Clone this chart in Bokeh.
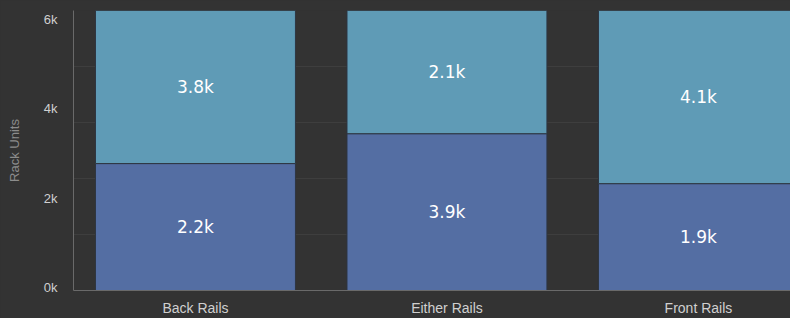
from bokeh.plotting import figure
from bokeh.models import ColumnDataSource, FixedTicker, Range1d, Grid, LinearAxis
from bokeh.core.properties import value
from bokeh.embed import file_html
from bokeh.resources import INLINE

# ---- data ----
categories = ["Back Rails", "Either Rails", "Front Rails"]
bottom_values = [2720, 3360, 2290]      # lower segment (rack units)
top_values = [3280, 2640, 3710]         # upper segment (rack units)
bottom_labels = ["2.2k", "3.9k", "1.9k"]
top_labels = ["3.8k", "2.1k", "4.1k"]
y_tick_values = [0, 2000, 4000, 6000]
y_tick_labels = ["0k", "2k", "4k", "6k"]
grid_values = [1200, 2400, 3600, 4800]

BG = "#333333"
BOTTOM_COLOR = "#546ea3"
TOP_COLOR = "#5f9bb6"

xs = list(range(len(categories)))
stack_top = [b + t for b, t in zip(bottom_values, top_values)]
src = ColumnDataSource(dict(
    x=xs,
    b0=[0] * len(xs),
    b1=bottom_values,
    t1=stack_top,
    bmid=[b / 2 for b in bottom_values],
    tmid=[b + t / 2 for b, t in zip(bottom_values, top_values)],
    blab=bottom_labels,
    tlab=top_labels,
))

p = figure(width=790, height=318, output_backend="svg", toolbar_location=None,
           x_range=Range1d(-0.485, 2.366), y_range=Range1d(0, 6000),
           y_axis_location=None,
           min_border_left=73, min_border_right=0, min_border_top=10, min_border_bottom=28)
p.background_fill_color = BG
p.border_fill_color = BG
p.outline_line_color = None

# grids: only a faint horizontal grid
for gr in list(p.xgrid) + list(p.ygrid):
    gr.visible = False
g = Grid(dimension=1, ticker=FixedTicker(ticks=grid_values), grid_line_color="#3e3e3e", grid_line_width=1)
p.add_layout(g)

p.vbar(x="x", bottom="b0", top="b1", width=0.795, source=src,
       fill_color=BOTTOM_COLOR, line_color="#2e3642", line_width=1)
p.vbar(x="x", bottom="b1", top="t1", width=0.795, source=src,
       fill_color=TOP_COLOR, line_color="#2e3642", line_width=1)

for col, lab in (("bmid", "blab"), ("tmid", "tlab")):
    p.text(x="x", y=col, text=lab, source=src, text_align="center", text_baseline="middle",
           text_color="white", text_font=value("DejaVu Sans"), text_font_size="17px",
           text_font_style="normal")

# y axis on its own (slightly inset) range, as the tick labels sit in the reference
p.extra_y_ranges = {"ylab": Range1d(-67, 6202)}
yax = LinearAxis(y_range_name="ylab", ticker=FixedTicker(ticks=y_tick_values),
                 major_label_overrides={v: l for v, l in zip(y_tick_values, y_tick_labels)})
p.add_layout(yax, "left")

p.xaxis.ticker = FixedTicker(ticks=xs)
p.xaxis.major_label_overrides = {i: c for i, c in zip(xs, categories)}
for ax, size in ((p.xaxis[0], "14px"), (yax, "13px")):
    ax.axis_line_color = "#6a6a6a"
    ax.major_tick_line_color = None
    ax.minor_tick_line_color = None
    ax.major_label_text_color = "#d0d0d0"
    ax.major_label_text_font = "Liberation Sans"
    ax.major_label_text_font_size = size
p.xaxis.major_label_standoff = 3
yax.major_label_standoff = 10
yax.axis_label = "Rack Units"
yax.axis_label_text_font = "Liberation Sans"
yax.axis_label_text_font_style = "normal"
yax.axis_label_text_font_size = "13px"
yax.axis_label_text_color = "#8c8c8c"
yax.axis_label_standoff = 19

html = file_html(p, INLINE)
html = html.replace("<head>", "<head><style>html,body{background:#333333;}</style>", 1)
open("out.html", "w").write(html)
